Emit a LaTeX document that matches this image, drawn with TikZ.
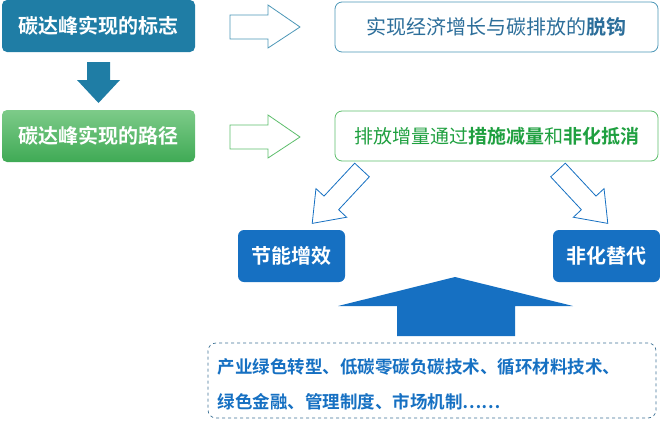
\documentclass[tikz,border=0pt]{standalone}
\usepackage{fontspec}
\setmainfont{Noto Sans CJK SC}
\newfontfamily\cjkb{Noto Sans CJK SC Bold}
\definecolor{teal1}{HTML}{1F7DA5}
\definecolor{grn1}{HTML}{5DBE6C}
\definecolor{grn2}{HTML}{3FAA55}
\definecolor{blu}{HTML}{1670C2}
\definecolor{txtb}{HTML}{2C6E9A}
\definecolor{txtg}{HTML}{1FA040}
\tikzset{
  lbox/.style={rounded corners=5pt, minimum width=193pt, minimum height=52pt, text=white, font=\cjkb\fontsize{20}{23}\selectfont},
  rbox/.style={draw, rounded corners=7pt, minimum width=323pt, minimum height=50pt, line width=0.8pt, fill=white},
  hol/.style={draw=#1, fill=white, line width=0.8pt, line join=miter},
  bbox/.style={fill=blu, rounded corners=6pt, minimum width=107pt, minimum height=52pt, text=white, font=\cjkb\fontsize{20}{23}\selectfont}
}
\begin{document}
\begin{tikzpicture}[x=1pt,y=-1pt]
\useasboundingbox (0,0) rectangle (660,423);
\node[lbox, fill=teal1] (b1) at (98.5,26) {碳达峰实现的标志};
\node[lbox, top color=grn1!80!white, bottom color=grn2] (b2) at (98.5,136) {碳达峰实现的路径};
\node[rbox, draw=teal1!80] (r1) at (496.5,27) {\fontsize{20}{23}\selectfont\color{txtb}实现经济增长与碳排放的{\cjkb 脱钩}};
\node[rbox, draw=grn1, inner sep=2pt] (r2) at (496.5,136) {\fontsize{19}{22}\selectfont\color{txtg}排放增量通过{\cjkb 措施减量}和{\cjkb 非化抵消}};
\draw[hol=teal1!80] (230,15) -- (268,15) -- (268,5) -- (300,27) -- (268,48) -- (268,39) -- (230,39) -- cycle;
\draw[hol=grn1] (230,125) -- (268,125) -- (268,115) -- (300,137) -- (268,158) -- (268,149) -- (230,149) -- cycle;
\fill[teal1] (87,62) -- (110,62) -- (110,80) -- (120,80) -- (98.5,103) -- (77,80) -- (87,80) -- cycle;
\node[bbox] (n1) at (291.5,256) {节能增效};
\node[bbox] (n2) at (606.5,256) {非化替代};
\begin{scope}[shift={(362,170)}, rotate=227]
\draw[hol=blu] (0,-10) -- (45,-10) -- (45,-21) -- (73,0) -- (45,21) -- (45,10) -- (0,10) -- cycle;
\end{scope}
\begin{scope}[shift={(558,170)}, rotate=313]
\draw[hol=blu] (0,-10) -- (45,-10) -- (45,-21) -- (73,0) -- (45,21) -- (45,10) -- (0,10) -- cycle;
\end{scope}
\fill[blu] (455,277) -- (573,306) -- (515,306) -- (515,336) -- (397,336) -- (397,306) -- (338,306) -- cycle;
\node[draw=txtb!80!gray, dashed, rounded corners=8pt, line width=0.7pt, minimum width=448pt, minimum height=75pt] (db) at (432,380.5) {};
\node[anchor=west, text=blu, font=\cjkb\fontsize{17.5}{35}\selectfont, align=left] (dt) at (214,384) {产业绿色转型、低碳零碳负碳技术、循环材料技术、\\绿色金融、管理制度、市场机制……};
\end{tikzpicture}
\end{document}
